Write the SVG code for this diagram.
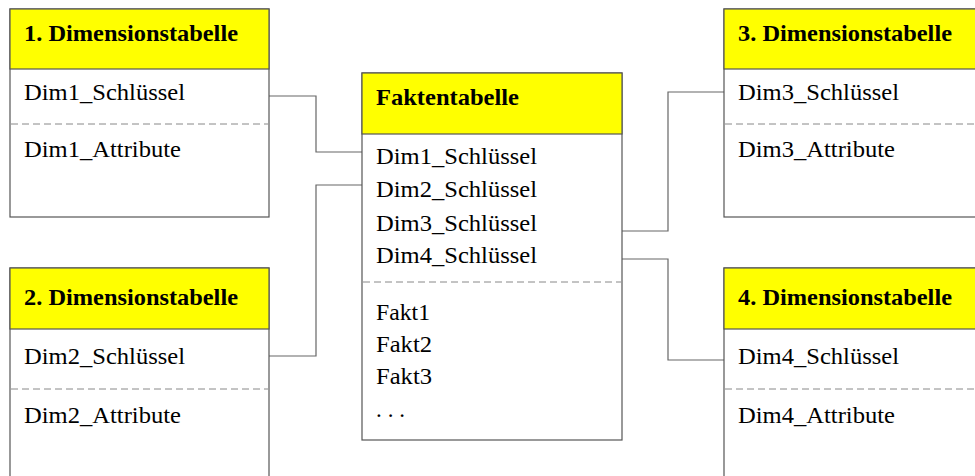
<svg xmlns="http://www.w3.org/2000/svg" width="975" height="476" viewBox="0 0 975 476">
  <style>
    .box { fill: #ffffff; stroke: #555555; stroke-width: 1.2; }
    .head { fill: #ffff00; stroke: #555555; stroke-width: 1.2; }
    .sep { stroke: #888888; stroke-width: 1; stroke-dasharray: 7 4; fill: none; }
    .title { font-family: "Liberation Serif", "Times New Roman", serif; font-weight: bold; font-size: 22.5px; fill: #000000; }
    .row { font-family: "Liberation Serif", "Times New Roman", serif; font-size: 23px; fill: #000000; }
    .link { fill: none; stroke: #666666; stroke-width: 1.2; }
  </style>

  <!-- relations between fact table and dimension tables -->
  <g id="connectors">
    <polyline class="link" points="269,96 316,96 316,152 362,152"/>
    <polyline class="link" points="269,356 316,356 316,185 362,185"/>
    <polyline class="link" points="622,231 668,231 668,92 724,92"/>
    <polyline class="link" points="622,259 668,259 668,360 724,360"/>
  </g>

  <g id="dim1">
    <rect class="box" x="10" y="9" width="259" height="208"/>
    <rect class="head" x="10" y="9" width="259" height="60"/>
    <text class="title" x="24" y="41" textLength="214" lengthAdjust="spacingAndGlyphs">1. Dimensionstabelle</text>
    <text class="row" x="24" y="100" textLength="161" lengthAdjust="spacingAndGlyphs">Dim1_Schlüssel</text>
    <line class="sep" x1="11" y1="124" x2="268" y2="124"/>
    <text class="row" x="24" y="157" textLength="157" lengthAdjust="spacingAndGlyphs">Dim1_Attribute</text>
  </g>

  <g id="dim2">
    <rect class="box" x="10" y="268" width="259" height="230"/>
    <rect class="head" x="10" y="268" width="259" height="61"/>
    <text class="title" x="24" y="305" textLength="214" lengthAdjust="spacingAndGlyphs">2. Dimensionstabelle</text>
    <text class="row" x="24" y="364" textLength="161" lengthAdjust="spacingAndGlyphs">Dim2_Schlüssel</text>
    <line class="sep" x1="11" y1="389" x2="268" y2="389"/>
    <text class="row" x="24" y="423" textLength="157" lengthAdjust="spacingAndGlyphs">Dim2_Attribute</text>
  </g>

  <g id="fakten">
    <rect class="box" x="362" y="73" width="260" height="367"/>
    <rect class="head" x="362" y="73" width="260" height="61"/>
    <text class="title" x="376" y="105" textLength="143" lengthAdjust="spacingAndGlyphs">Faktentabelle</text>
    <text class="row" x="376" y="164" textLength="161" lengthAdjust="spacingAndGlyphs">Dim1_Schlüssel</text>
    <text class="row" x="376" y="197" textLength="161" lengthAdjust="spacingAndGlyphs">Dim2_Schlüssel</text>
    <text class="row" x="376" y="231" textLength="161" lengthAdjust="spacingAndGlyphs">Dim3_Schlüssel</text>
    <text class="row" x="376" y="263" textLength="161" lengthAdjust="spacingAndGlyphs">Dim4_Schlüssel</text>
    <line class="sep" x1="363" y1="282" x2="621" y2="282"/>
    <text class="row" x="376" y="320" textLength="54" lengthAdjust="spacingAndGlyphs">Fakt1</text>
    <text class="row" x="376" y="352" textLength="56" lengthAdjust="spacingAndGlyphs">Fakt2</text>
    <text class="row" x="376" y="384" textLength="56" lengthAdjust="spacingAndGlyphs">Fakt3</text>
    <text class="row" x="376" y="417" textLength="29" lengthAdjust="spacing">. . .</text>
  </g>

  <g id="dim3">
    <rect class="box" x="724" y="9" width="270" height="208"/>
    <rect class="head" x="724" y="9" width="270" height="60"/>
    <text class="title" x="738" y="41" textLength="214" lengthAdjust="spacingAndGlyphs">3. Dimensionstabelle</text>
    <text class="row" x="738" y="100" textLength="161" lengthAdjust="spacingAndGlyphs">Dim3_Schlüssel</text>
    <line class="sep" x1="725" y1="124" x2="993" y2="124"/>
    <text class="row" x="738" y="157" textLength="157" lengthAdjust="spacingAndGlyphs">Dim3_Attribute</text>
  </g>

  <g id="dim4">
    <rect class="box" x="724" y="268" width="270" height="230"/>
    <rect class="head" x="724" y="268" width="270" height="61"/>
    <text class="title" x="738" y="305" textLength="214" lengthAdjust="spacingAndGlyphs">4. Dimensionstabelle</text>
    <text class="row" x="738" y="364" textLength="161" lengthAdjust="spacingAndGlyphs">Dim4_Schlüssel</text>
    <line class="sep" x1="725" y1="389" x2="993" y2="389"/>
    <text class="row" x="738" y="423" textLength="157" lengthAdjust="spacingAndGlyphs">Dim4_Attribute</text>
  </g>
</svg>
